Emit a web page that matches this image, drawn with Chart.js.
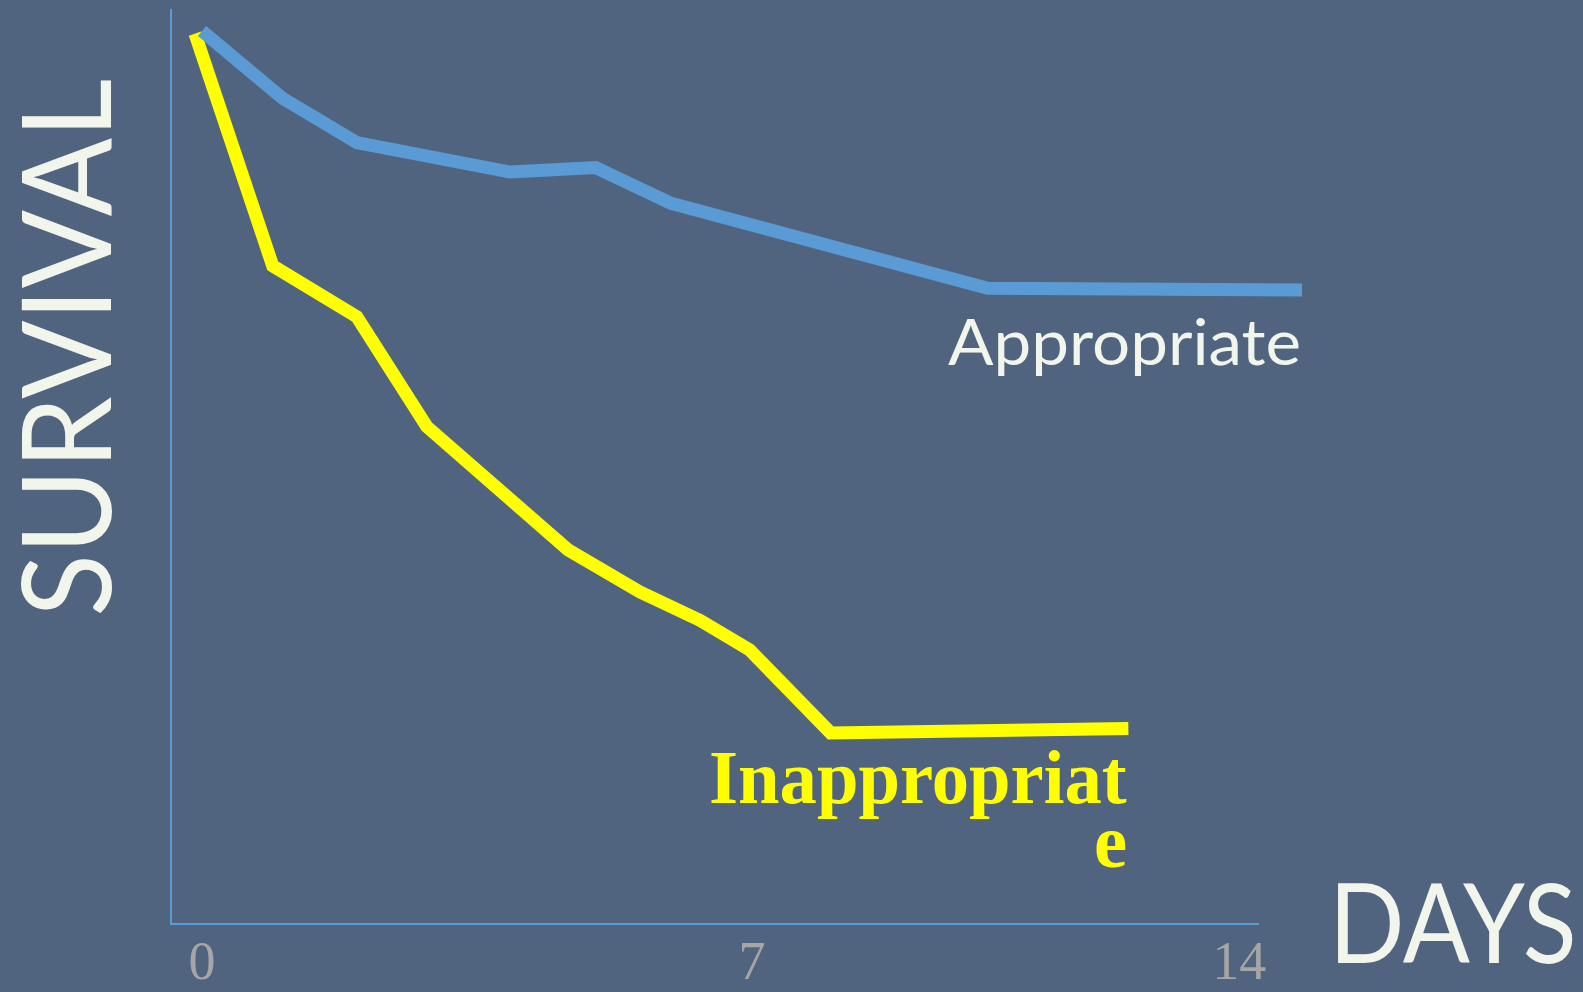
<!DOCTYPE html>
<html>
<head>
<meta charset="utf-8">
<title>Survival by days</title>
<script src="https://cdn.jsdelivr.net/npm/chart.js@4.4.1/dist/chart.umd.min.js"></script>
<style>
  html, body { margin: 0; padding: 0; background: #51647f; }
  #wrap { width: 1583px; height: 992px; position: relative; }
</style>
</head>
<body>
<div id="wrap"><canvas id="chart-survival"></canvas></div>
<script>
// Datos (dias / supervivencia %)
const appropriateDays = [0, 1.02, 1.97, 3.92, 5.01, 5.97, 10.0, 14.0];
const appropriateSurvival = [100, 92.5, 87.5, 84.2, 84.7, 80.7, 71.2, 71.0];

const inappropriateDays = [-0.09, 0.9, 1.97, 2.86, 4.66, 5.57, 6.34, 6.97, 8.0, 11.79];
const inappropriateSurvival = [99.7, 73.7, 68.0, 55.7, 41.9, 37.2, 34.0, 30.7, 21.4, 21.9];

// Etiquetas del eje X y donde aparecen en el dibujo
const tickLabels = ['0', '7', '14'];
const tickPositions = [0, 7, 13.2];

const seriesNames = ['Appropriate', 'Inappropriate'];

const toPoints = (xs, ys) => xs.map((x, i) => ({ x: x, y: ys[i] }));

// Ajusta un texto a una caja (borde de tinta izq/der, altura de mayusculas)
function fitText(ctx, text, font, left, right, capTop, baseline) {
    ctx.font = `${font.weight} 100px ${font.family}`;
    const capH = ctx.measureText('H').actualBoundingBoxAscent;
    const size = 100 * (baseline - capTop) / capH;
    ctx.font = `${font.weight} ${size}px ${font.family}`;
    const m = ctx.measureText(text);
    const inkW = m.actualBoundingBoxLeft + m.actualBoundingBoxRight;
    return { size: size, sx: (right - left) / inkW, m: m };
}

const labelsPlugin = {
    id: 'etiquetas',
    afterDraw(chart) {
        const ctx = chart.ctx;
        const sans = { weight: 'normal', family: 'Lato, "Open Sans", sans-serif' };
        const serifBold = { weight: 'bold', family: '"Liberation Serif", "Times New Roman", serif' };
        ctx.save();
        ctx.textAlign = 'left';
        ctx.textBaseline = 'alphabetic';

        // SURVIVAL (vertical)
        ctx.fillStyle = '#f1f5ec';
        let f = fitText(ctx, 'SURVIVAL', sans, 80, 613, 21, 111);
        ctx.save();
        ctx.translate(111, 613);
        ctx.rotate(-Math.PI / 2);
        ctx.scale(f.sx, 1);
        ctx.fillText('SURVIVAL', f.m.actualBoundingBoxLeft, 0);
        ctx.restore();

        // DAYS
        f = fitText(ctx, 'DAYS', sans, 1338, 1573, 882, 963);
        ctx.save();
        ctx.translate(1338, 963);
        ctx.scale(f.sx, 1);
        ctx.fillText('DAYS', f.m.actualBoundingBoxLeft, 0);
        ctx.restore();

        // Appropriate
        f = fitText(ctx, seriesNames[0], sans, 948, 1299, 318, 365);
        ctx.save();
        ctx.translate(948, 365);
        ctx.scale(f.sx, 1);
        ctx.fillText(seriesNames[0], f.m.actualBoundingBoxLeft, 0);
        ctx.restore();

        // Inappropriate (partido en dos lineas como en el original)
        ctx.fillStyle = '#ffff00';
        const line1 = seriesNames[1].slice(0, -1);
        const line2 = seriesNames[1].slice(-1);
        f = fitText(ctx, line1, serifBold, 711, 1127, 753, 803);
        ctx.save();
        ctx.translate(711, 803);
        ctx.scale(f.sx, 1);
        ctx.fillText(line1, f.m.actualBoundingBoxLeft, 0);
        ctx.restore();
        const m2 = ctx.measureText(line2);
        ctx.save();
        ctx.translate(1126, 867);
        ctx.scale(f.sx, 1);
        ctx.fillText(line2, -m2.actualBoundingBoxRight, 0);
        ctx.restore();

        ctx.restore();
    }
};

document.addEventListener('DOMContentLoaded', () => {
    const ctx = document.getElementById('chart-survival').getContext('2d');

    new Chart(ctx, {
        type: 'line',
        data: {
            datasets: [{
                label: seriesNames[0],
                data: toPoints(appropriateDays, appropriateSurvival),
                borderColor: '#5b9bd5',
                borderWidth: 13,
                borderCapStyle: 'butt',
                borderJoinStyle: 'miter',
                pointRadius: 0,
                tension: 0,
                clip: false
            }, {
                label: seriesNames[1],
                data: toPoints(inappropriateDays, inappropriateSurvival),
                borderColor: '#ffff00',
                borderWidth: 13,
                borderCapStyle: 'butt',
                borderJoinStyle: 'miter',
                pointRadius: 0,
                tension: 0,
                clip: false
            }]
        },
        options: {
            responsive: true,
            maintainAspectRatio: false,
            animation: false,
            layout: {
                padding: { left: 171, top: 10, right: 325, bottom: 0 }
            },
            plugins: {
                legend: { display: false },
                tooltip: { enabled: false }
            },
            scales: {
                x: {
                    type: 'linear',
                    min: -0.395,
                    max: 13.44,
                    afterBuildTicks: (scale) => {
                        scale.ticks = tickPositions.map(v => ({ value: v }));
                    },
                    afterFit: (scale) => { scale.height = 68; },
                    grid: { display: false, drawTicks: false },
                    border: { display: true, color: '#5b9bd5', width: 2 },
                    ticks: {
                        autoSkip: false,
                        maxRotation: 0,
                        padding: 8,
                        color: '#a6a6a6',
                        font: { family: '"Liberation Serif", "Times New Roman", serif', size: 54 },
                        callback: (value, index) => tickLabels[index]
                    }
                },
                y: {
                    type: 'linear',
                    min: 0,
                    max: 102.35,
                    afterFit: (scale) => { scale.width = 0; },
                    grid: { display: false, drawTicks: false },
                    border: { display: true, color: '#5b9bd5', width: 2 },
                    ticks: { display: false }
                }
            }
        },
        plugins: [labelsPlugin]
    });
});
</script>
</body>
</html>
